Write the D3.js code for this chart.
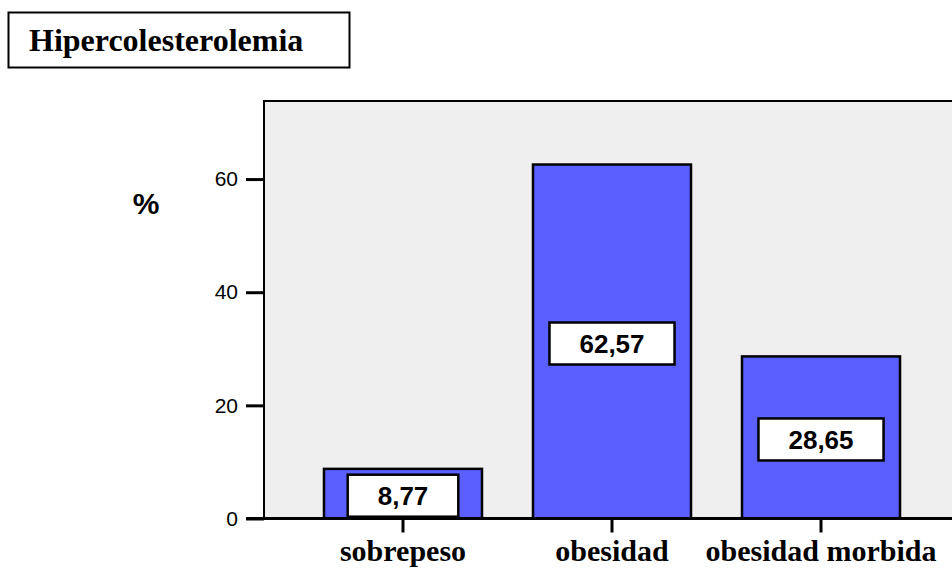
<!DOCTYPE html>
<html>
<head>
<meta charset="utf-8">
<script src="https://cdn.jsdelivr.net/npm/d3@7/dist/d3.min.js"></script>
<style>
  html, body { margin: 0; padding: 0; background: #ffffff; }
  svg { display: block; }
</style>
</head>
<body>
<svg id="chart" width="952" height="568"></svg>
<script>
// Hypercholesterolaemia by weight category (%)
const categories = ["sobrepeso", "obesidad", "obesidad morbida"];
const values = [8.77, 62.57, 28.65];
const yTicks = [0, 20, 40, 60];
const title = "Hipercolesterolemia";
const yLabel = "%";

const svg = d3.select("#chart");
const W = 952, H = 568;

const plot = { left: 264, right: 960, top: 101, bottom: 518.5 };

const x = d3.scaleBand()
  .domain(categories)
  .range([plot.left, plot.right])
  .paddingInner(0.244)
  .paddingOuter(0.287);

const y = d3.scaleLinear()
  .domain([0, 73.8])
  .range([plot.bottom, plot.top]);

const esLocale = d3.formatLocale({ decimal: ",", thousands: ".", grouping: [3], currency: ["", " €"] });
const fmt = esLocale.format(".2f");

// Title box
svg.append("rect")
  .attr("x", 8.5).attr("y", 12.5).attr("width", 341).attr("height", 55)
  .attr("fill", "#ffffff").attr("stroke", "#000").attr("stroke-width", 2);
svg.append("text")
  .attr("x", 29).attr("y", 51)
  .attr("font-family", "'Liberation Serif', 'Times New Roman', serif")
  .attr("font-weight", "bold").attr("font-size", 32)
  .attr("fill", "#000")
  .text(title);

// Plot background and frame
svg.append("rect")
  .attr("x", plot.left).attr("y", plot.top)
  .attr("width", plot.right - plot.left).attr("height", plot.bottom - plot.top)
  .attr("fill", "#efefef").attr("stroke", "#000").attr("stroke-width", 2);

// Y axis
const yAxis = d3.axisLeft(y).tickValues(yTicks).tickSize(18).tickPadding(8).tickFormat(d3.format("d"));
const gy = svg.append("g").attr("transform", `translate(${plot.left},0)`).call(yAxis);
gy.select(".domain").remove();
gy.selectAll(".tick line").attr("stroke", "#000").attr("stroke-width", 3);
gy.selectAll(".tick text")
  .attr("font-family", "'Liberation Sans', Arial, sans-serif")
  .attr("font-size", 21).attr("fill", "#000");

// Y axis label
svg.append("text")
  .attr("x", 146).attr("y", 214)
  .attr("text-anchor", "middle")
  .attr("font-family", "'Liberation Sans', Arial, sans-serif")
  .attr("font-weight", "bold").attr("font-size", 30)
  .attr("fill", "#000")
  .text(yLabel);

// Bars
svg.append("g").selectAll("rect")
  .data(categories)
  .join("rect")
  .attr("x", d => x(d))
  .attr("y", (d, i) => y(values[i]))
  .attr("width", x.bandwidth())
  .attr("height", (d, i) => y(0) - y(values[i]))
  .attr("fill", "#5b5fff")
  .attr("stroke", "#000").attr("stroke-width", 2.5);

// X axis baseline and ticks
const xAxis = d3.axisBottom(x).tickSize(14).tickPadding(14);
const gx = svg.append("g").attr("transform", `translate(0,${plot.bottom})`).call(xAxis);
gx.select(".domain").remove();
gx.selectAll(".tick line").attr("stroke", "#000").attr("stroke-width", 3);
gx.selectAll(".tick text")
  .attr("font-family", "'Liberation Serif', 'Times New Roman', serif")
  .attr("font-weight", "bold").attr("font-size", 30)
  .attr("fill", "#000")
  .attr("dy", null).attr("y", 42.5);
svg.append("line")
  .attr("x1", 246).attr("x2", W)
  .attr("y1", plot.bottom).attr("y2", plot.bottom)
  .attr("stroke", "#000").attr("stroke-width", 3);

// Value labels in boxes at bar mid-height
const lbl = svg.append("g").selectAll("g")
  .data(categories)
  .join("g")
  .attr("transform", (d, i) => `translate(${x(d) + x.bandwidth() / 2},${y(values[i] / 2) + 2})`);
const rects = lbl.append("rect");
const texts = lbl.append("text")
  .attr("text-anchor", "middle")
  .attr("dy", "0.36em")
  .attr("font-family", "'Liberation Sans', Arial, sans-serif")
  .attr("font-weight", "bold").attr("font-size", 26)
  .attr("fill", "#000")
  .text((d, i) => fmt(values[i]));
texts.each(function () {
  const w = this.getComputedTextLength() + 60;
  d3.select(this.parentNode).select("rect")
    .attr("x", -w / 2).attr("y", -21)
    .attr("width", w).attr("height", 42)
    .attr("fill", "#fff").attr("stroke", "#000").attr("stroke-width", 2.5);
});
</script>
</body>
</html>
